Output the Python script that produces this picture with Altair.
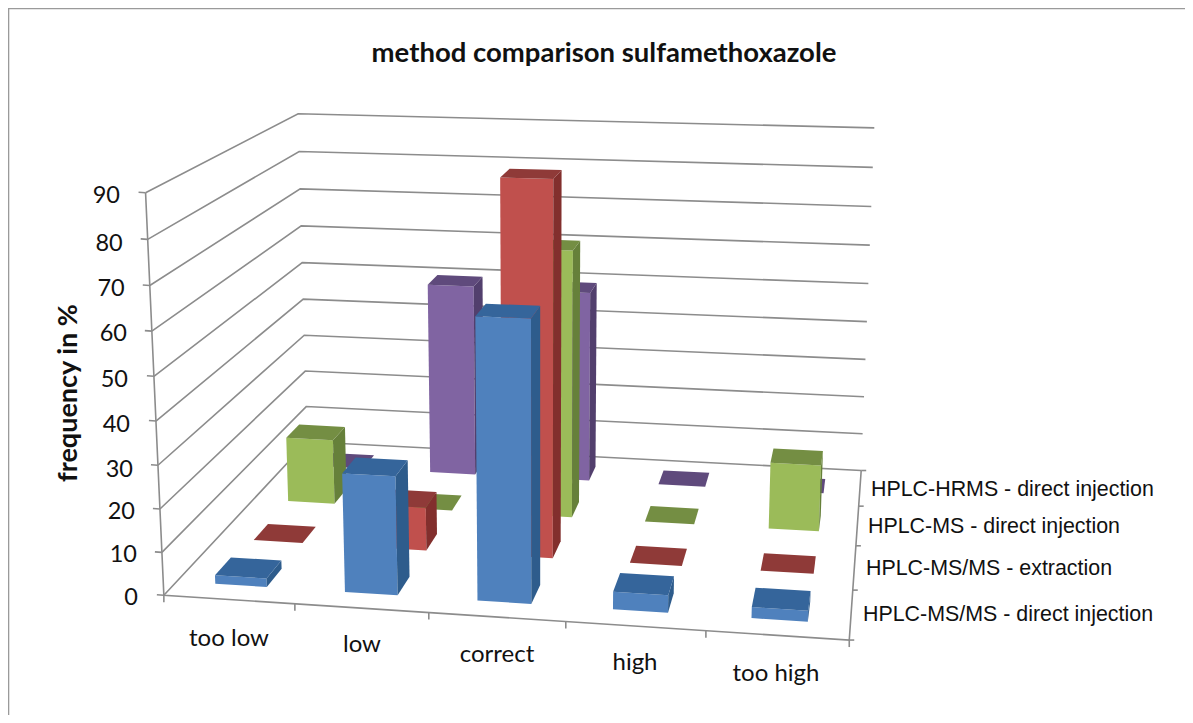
import numpy as np
import pandas as pd
import altair as alt

# ---- chart values ----
categories = ["too low", "low", "correct", "high", "too high"]
series_names = ["HPLC-MS/MS - direct injection", "HPLC-MS/MS - extraction",
                "HPLC-MS - direct injection", "HPLC-HRMS - direct injection"]
ms_ms_direct = [2, 27.5, 64, 4, 2.5]
ms_ms_extraction = [0, 10.5, 88.7, 0, 0]
ms_direct = [16.5, 0, 66.5, 0, 16.5]
hrms_direct = [0, 50, 49.5, 0, 0]
series_values = [ms_ms_direct, ms_ms_extraction, ms_direct, hrms_direct]
y_ticks = [0, 10, 20, 30, 40, 50, 60, 70, 80, 90]

# ---- styles ----
face = ["#4F81BD", "#C0504D", "#9BBB59", "#8064A2"]
top = ["#35659B", "#8F3A38", "#748E43", "#5F4A7C"]
side = ["#2E5C8C", "#822F2D", "#66803A", "#523F6D"]
GRID = "#8C8C8C"
W, H = 1177, 707
OX, OY = 8, 8

# ---- perspective camera fitted to the walls of the 3-D box (page pixels) ----
left_y = [595, 552, 508, 465, 420, 376, 330, 285, 239, 192]
left_x = [164.5, 162, 160, 158, 156, 154, 152, 150, 148, 145]
bl_y = [441, 407, 372, 336, 299, 263, 226, 189, 152, 114]
bl_x = [307, 306, 305, 304, 303, 302, 301, 300, 299.5, 298]
br_y = [469, 434, 397, 358, 322, 284, 245, 207, 168, 128]
br_x = [862, 863, 864, 865, 867, 868, 870, 871, 873, 875]
front_x = [164.5, 295, 429, 566, 706, 848]
front_y = [595, 604, 614, 625, 633, 640]
right_x = [848, 853, 856, 858, 862]
right_y = [640, 589, 545, 506, 469]

pairs = []
for i in range(10):
    w = i / 9
    pairs += [((0, 0, w), (left_x[i], left_y[i])), ((0, 1, w), (bl_x[i], bl_y[i])),
              ((1, 1, w), (br_x[i], br_y[i]))]
for i in range(6):
    pairs.append(((i / 5, 0, 0), (front_x[i], front_y[i])))
for i in range(5):
    pairs.append(((1, i / 4, 0), (right_x[i], right_y[i])))
A, b = [], []
for (u, v, w), (px, py) in pairs:
    A.append([u, v, w, 1, 0, 0, 0, 0, -u * px, -v * px, -w * px]); b.append(px)
    A.append([0, 0, 0, 0, u, v, w, 1, -u * py, -v * py, -w * py]); b.append(py)
sol = np.linalg.lstsq(np.array(A), np.array(b), rcond=None)[0]
P = np.append(sol, 1).reshape(3, 4)


def proj(cat, depth, val):
    """category units, series units, data value -> chart pixels"""
    q = P @ np.array([cat / 5, depth / 4, val / 90, 1.0])
    return [float(q[0] / q[2] - OX), float(q[1] / q[2] - OY)]


def poly(points, fill):
    ring = [proj(*p) for p in points]
    ring.append(ring[0])
    return {"type": "Feature", "properties": {"fill": fill},
            "geometry": {"type": "Polygon", "coordinates": [ring]}}


def line(points):
    return {"type": "Feature", "properties": {},
            "geometry": {"type": "LineString", "coordinates": points}}


# ---- walls, axes ----
lines = []
for t in y_ticks:
    lines.append(line([proj(0, 0, t), proj(0, 4, t), proj(5, 4, t)]))
    a = proj(0, 0, t)
    lines.append(line([[a[0] - 7, a[1] - 0.5], a]))
lines.append(line([proj(0, 0, 90), proj(0, 0, 0), proj(5, 0, 0), proj(5, 4, 0)]))
for i in range(6):
    a = proj(i, 0, 0)
    lines.append(line([a, [a[0], a[1] + 7]]))
for j in range(5):
    a = proj(5, j, 0)
    lines.append(line([a, [a[0] + 5, a[1]]]))

# ---- bars, painted back to front ----
G0, G1 = 0.3, 0.7   # 150 % gap in both directions
bars = []
for j in range(3, -1, -1):
    for i in range(5):
        val = series_values[j][i]
        u0, u1 = i + G0, i + G1
        v0, v1 = j + G0, j + G1
        if val > 0:
            bars.append(poly([(u0, v0, 0), (u1, v0, 0), (u1, v0, val), (u0, v0, val)], face[j]))
            bars.append(poly([(u1, v0, 0), (u1, v1, 0), (u1, v1, val), (u1, v0, val)], side[j]))
        bars.append(poly([(u0, v0, val), (u1, v0, val), (u1, v1, val), (u0, v1, val)], top[j]))

PROJ = dict(type="identity", scale=1, translate=[0, 0])


def fc(features):
    return alt.InlineData(values={"type": "FeatureCollection", "features": features},
                          format=alt.DataFormat(property="features", type="json"))


frame_layer = alt.Chart(fc([line([[0.5, H], [0.5, 0.5], [W, 0.5]])])).mark_geoshape(
    filled=False, stroke="#9A9A9A", strokeWidth=1.6).project(**PROJ)
line_layer = alt.Chart(fc(lines)).mark_geoshape(
    filled=False, stroke=GRID, strokeWidth=1.6).project(**PROJ)
bar_layer = alt.Chart(fc(bars)).mark_geoshape(strokeWidth=0).encode(
    fill=alt.Fill("properties.fill:N", scale=None)).project(**PROJ)

# ---- texts ----
TEXT_DY = 1.5
y_label_right = [138, 137, 135, 133, 130, 128, 127, 124.7, 122.7, 120]
y_label_mid = [596, 553, 510, 468, 423, 378, 332, 287, 242, 194]
cat_label_x = [229, 362, 497, 635, 776]
cat_label_y = [637, 643, 653, 661, 672]
ser_label_x = [863, 866, 868, 871]
ser_label_y = [613, 567, 525, 488]


def text_layer(df, **kw):
    return alt.Chart(df).mark_text(baseline="middle", color="#111111", **kw).encode(
        x=alt.X("x:Q", scale=None), y=alt.Y("y:Q", scale=None), text="t:N")


yl = pd.DataFrame({"t": [str(t) for t in y_ticks],
                   "x": np.array(y_label_right) - OX, "y": np.array(y_label_mid) - OY + TEXT_DY})
cl = pd.DataFrame({"t": categories, "x": np.array(cat_label_x) - OX, "y": np.array(cat_label_y) - OY + TEXT_DY})
sl = pd.DataFrame({"t": series_names, "x": np.array(ser_label_x) - OX, "y": np.array(ser_label_y) - OY + TEXT_DY})
tl = pd.DataFrame({"t": ["method comparison sulfamethoxazole"], "x": [604 - OX], "y": [52 - OY + TEXT_DY]})
al = pd.DataFrame({"t": ["frequency in %"], "x": [69 - OX], "y": [393 - OY]})

chart = alt.layer(
    frame_layer, line_layer, bar_layer,
    text_layer(yl, align="right", font="Lato", fontSize=23.5),
    text_layer(cl, align="center", font="Lato", fontSize=24),
    text_layer(sl, align="left", font="Liberation Sans", fontSize=21.4),
    text_layer(tl, align="center", font="Lato", fontSize=27.5, fontWeight="bold"),
    text_layer(al, align="center", font="Lato", fontSize=27, fontWeight="bold", angle=270),
).properties(
    width=W, height=H, padding=0, autosize=alt.AutoSizeParams(type="none"), background="white"
).configure_view(stroke=None)

chart.save("out.html", embed_options={"renderer": "svg", "actions": False})
